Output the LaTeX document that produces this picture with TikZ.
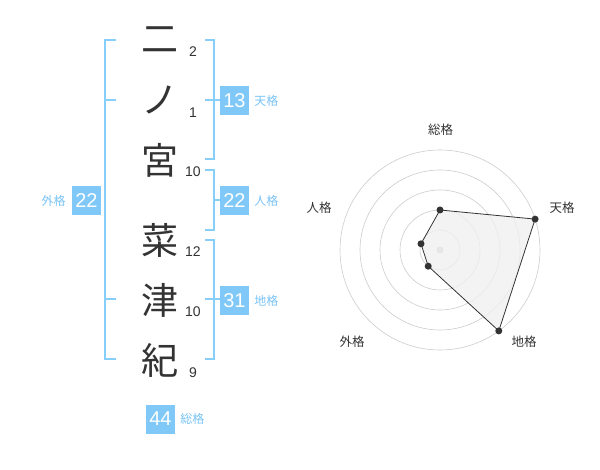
\documentclass[tikz,border=0pt]{standalone}
\usepackage{fontspec}
\setmainfont{Liberation Sans}
\newfontfamily\cjk{Noto Sans CJK JP}
\definecolor{bbl}{RGB}{135,206,250}
\definecolor{bfill}{RGB}{127,200,248}
\definecolor{ltxt}{RGB}{120,195,245}
\definecolor{dk}{RGB}{51,51,51}
\begin{document}
\begin{tikzpicture}[x=1pt,y=-1pt,
  kanji/.style={font=\cjk\fontsize{37}{37}\selectfont, text=dk, inner sep=0pt},
  strk/.style={font=\fontsize{14}{14}\selectfont, text=dk, inner sep=0pt},
  numbox/.style={fill=bfill, text=white, minimum width=29pt, minimum height=29pt, inner sep=0pt, font=\fontsize{20}{20}\selectfont},
  lab/.style={font=\cjk\fontsize{12}{12}\selectfont, text=ltxt, inner sep=0pt},
  brk/.style={draw=bbl, line width=2pt},
  rlab/.style={font=\cjk\fontsize{12.5}{12.5}\selectfont, text=dk, inner sep=0pt},
  ring/.style={draw=black!20, line width=0.6pt},
  dot/.style={circle, fill=dk, inner sep=0pt, minimum size=7pt}]
\useasboundingbox (0,0) rectangle (600,470);
% kanji
\node[kanji] (k1) at (160,40) {二};
\node[kanji] (k2) at (160,100) {ノ};
\node[kanji] (k3) at (160,160) {宮};
\node[kanji] (k4) at (160,240) {菜};
\node[kanji] (k5) at (160,300) {津};
\node[kanji] (k6) at (160,360) {紀};
% stroke counts
\node[strk] (s1) at (193,52) {2};
\node[strk] (s2) at (193,113) {1};
\node[strk] (s3) at (193,172) {10};
\node[strk] (s4) at (193,252) {12};
\node[strk] (s5) at (193,312) {10};
\node[strk] (s6) at (193,373) {9};
% brackets
\draw[brk] (116,40) -- (105,40) -- (105,359) -- (116,359);
\draw[brk] (105,100) -- (116,100);
\draw[brk] (105,299) -- (116,299);
\draw[brk] (205,40) -- (214,40) -- (214,159) -- (205,159);
\draw[brk] (205,100) -- (220,100);
\draw[brk] (205,170) -- (214,170) -- (214,230) -- (205,230);
\draw[brk] (214,200) -- (220,200);
\draw[brk] (205,240) -- (214,240) -- (214,359) -- (205,359);
\draw[brk] (205,299) -- (220,299);
% boxes
\node[numbox] (b13) at (234.5,100.5) {13};
\node[lab, anchor=west] (l13) at ([xshift=5pt]b13.east) {天格};
\node[numbox] (b22a) at (234.5,200.5) {22};
\node[lab, anchor=west] (l22a) at ([xshift=5pt]b22a.east) {人格};
\node[numbox] (b31) at (234.5,300.5) {31};
\node[lab, anchor=west] (l31) at ([xshift=5pt]b31.east) {地格};
\node[numbox] (b22b) at (86.5,200.5) {22};
\node[lab, anchor=east] (l22b) at ([xshift=-6pt]b22b.west) {外格};
\node[numbox] (b44) at (160.5,419) {44};
\node[lab, anchor=west] (l44) at ([xshift=5pt]b44.east) {総格};
% radar
\coordinate (c) at (440,250);
\foreach \r in {20,40,60,80,100} \draw[ring] (c) circle (\r pt);
\fill[black!25] (c) circle (3.5pt);
\coordinate (p1) at (440,210);
\coordinate (p2) at (535.1,219.1);
\coordinate (p3) at (498.8,330.9);
\coordinate (p4) at (428.2,266.2);
\coordinate (p5) at (421,243.8);
\fill[black!6, opacity=0.8] (p1) -- (p2) -- (p3) -- (p4) -- (p5) -- cycle;
\draw[dk, line width=0.8pt] (p1) -- (p2) -- (p3) -- (p4) -- (p5) -- cycle;
\foreach \p in {p1,p2,p3,p4,p5} \node[dot] at (\p) {};
\node[rlab] (r1) at (440.5,130) {総格};
\node[rlab] (r2) at (562,208) {天格};
\node[rlab] (r3) at (524,342) {地格};
\node[rlab] (r4) at (352,342) {外格};
\node[rlab] (r5) at (319,208) {人格};
\end{tikzpicture}
\end{document}
